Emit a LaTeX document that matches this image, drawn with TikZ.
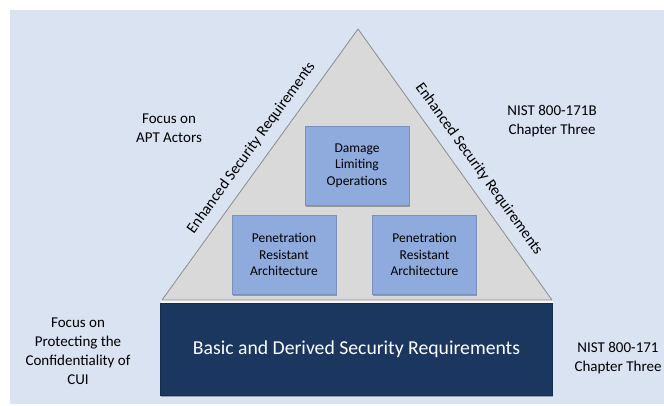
\documentclass[tikz,border=0pt]{standalone}
\usepackage{fontspec}
\setmainfont{Carlito}
\usetikzlibrary{shadows}

\definecolor{pagebg}{RGB}{218,227,241}
\definecolor{pyrgray}{RGB}{217,217,217}
\definecolor{edgegray}{RGB}{140,140,140}
\definecolor{capblue}{RGB}{143,170,220}
\definecolor{basenavy}{RGB}{28,55,95}

\tikzset{
	capbox/.style={fill=capblue,draw=capblue!85!black,line width=0.3pt,
		minimum width=104pt,minimum height=79pt,align=center,inner sep=2pt,
		font=\fontsize{13.5}{16.5}\selectfont,
		drop shadow={shadow xshift=0.6pt,shadow yshift=-1.6pt,opacity=0.45,fill=black!70}},
	basebox/.style={fill=basenavy,draw=basenavy!80!black,line width=0.3pt,
		minimum width=392pt,minimum height=92pt,text=white,
		font=\fontsize{19.7}{22}\selectfont,
		drop shadow={shadow xshift=0.6pt,shadow yshift=-1.6pt,opacity=0.45,fill=black!70}},
	sidetext/.style={align=center,inner sep=0pt,font=\fontsize{15}{19}\selectfont},
	edgetext/.style={sloped,inner sep=0pt,font=\fontsize{15.5}{17}\selectfont}
}

\begin{document}
\begin{tikzpicture}[x=1pt,y=-1pt]
	\useasboundingbox (0,0) rectangle (664,406);
	\fill[pagebg] (10,10) rectangle (664,404);
% pyramid
	\coordinate (apex) at (358,29);
	\coordinate (bl) at (162,300);
	\coordinate (br) at (552,300);
	\fill[white!75!pyrgray] (160.5,300) rectangle (552.5,304);
	\draw[fill=pyrgray,draw=edgegray,line width=0.8pt,line join=round] (bl) -- (apex) -- (br) -- cycle;
	\path (bl) -- node[edgetext,above=10pt,pos=0.525] (enhleft) {Enhanced Security Requirements} (apex);
	\path (apex) -- node[edgetext,above=10pt,pos=0.553] (enhright) {Enhanced Security Requirements} (br);
% blocks
	\node[capbox] (dlo) at (357,165.5) {Damage\\Limiting\\Operations};
	\node[capbox] (praleft) at (284,254.5) {Penetration\\Resistant\\Architecture};
	\node[capbox] (praright) at (424.5,254.5) {Penetration\\Resistant\\Architecture};
	\node[basebox] (basic) at (356.5,349.5) {Basic and Derived Security Requirements};
% side notes
	\node[sidetext] (aptfocus) at (169,128.5) {Focus on\\APT Actors};
	\node[sidetext] (nistb) at (552,121.5) {NIST 800-171B\\Chapter Three};
	\node[sidetext] (cuifocus) at (78,351.5) {Focus on\\Protecting the\\Confidentiality of\\CUI};
	\node[sidetext] (nist) at (618,358) {NIST 800-171\\Chapter Three};
\end{tikzpicture}
\end{document}
